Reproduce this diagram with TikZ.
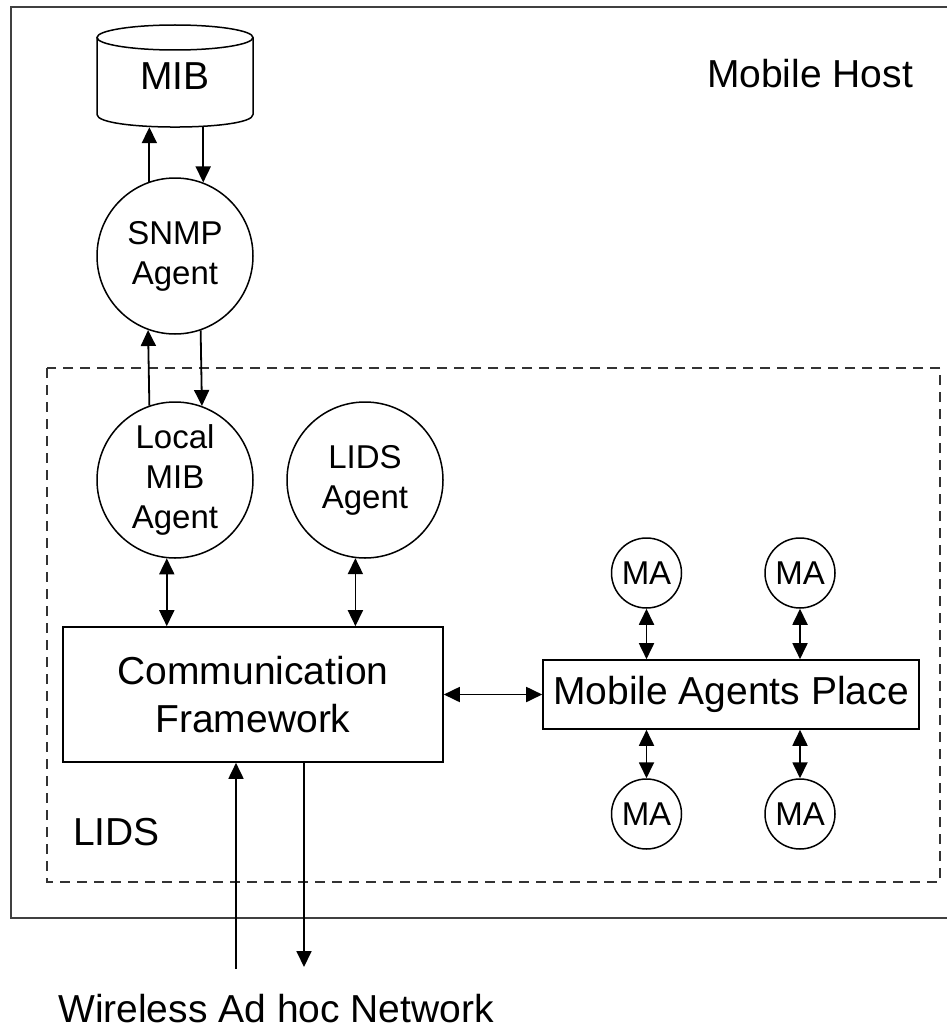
\documentclass[tikz,border=0pt]{standalone}
\usepackage{fontspec}
\setmainfont{Liberation Sans}
\usetikzlibrary{arrows.meta,calc}
\begin{document}
\begin{tikzpicture}[x=1pt,y=-1pt,
  big/.style={font=\fontsize{39}{48}\selectfont},
  small/.style={font=\fontsize{33}{40}\selectfont},
  agent/.style={circle,draw,line width=1.5pt,minimum size=156pt,inner sep=0pt,align=center,small},
  ma/.style={circle,draw,line width=1.5pt,minimum size=70pt,inner sep=0pt,small},
  box/.style={draw,line width=1.6pt,inner sep=0pt,align=center,big},
  arr/.style={line width=1.8pt,arrows={-Triangle[length=16pt,width=15pt]}},
  darr/.style={line width=1.8pt,arrows={Triangle[length=16pt,width=15pt]-Triangle[length=16pt,width=15pt]}},
]
\useasboundingbox (0,0) rectangle (947,1030);
\fill[white] (0,0) rectangle (947,1030);

% containers
\draw[line width=2.5pt,black!75] (11,7) rectangle (970,918);
\draw[line width=2pt,black!80,dash pattern=on 10pt off 7pt] (47,368) rectangle (940,882);

% MIB cylinder
\draw[line width=1.5pt] (97,37.5) -- (97,114.5) .. controls (97,131.2) and (253,131.2) .. (253,114.5) -- (253,37.5);
\draw[line width=1.5pt] (175,37.5) ellipse [x radius=78, y radius=12.5];
\node[big,inner sep=0pt,minimum width=156pt,minimum height=102pt] (mib) at (175,76) {MIB};

% nodes
\node[agent] (snmp) at (175,256) {SNMP\\Agent};
\node[agent] (lmib) at (175,480) {Local\\MIB\\Agent};
\node[agent] (lids) at (365,480) {LIDS\\Agent};
\node[box,minimum width=380pt,minimum height=135pt] (comm) at (253,694.5) {Communication\\Framework};
\node[box,minimum width=376pt,minimum height=69pt] (map) at (731,694.5) {Mobile Agents Place};
\node[ma] (ma1) at (646.5,573) {MA};
\node[ma] (ma2) at (800,573) {MA};
\node[ma] (ma3) at (646.5,814) {MA};
\node[ma] (ma4) at (800,814) {MA};

% labels
\node[big,inner sep=0pt,anchor=base] (host) at (810,88) {Mobile Host};
\node[big,inner sep=0pt,anchor=base west] (lidslabel) at (73,845) {LIDS};
\node[big,inner sep=0pt,anchor=base] (net) at (276,1022) {Wireless Ad hoc Network};

% connectors
\draw[arr] (snmp.109.5) -- (snmp.109.5 |- mib.south);
\draw[arr] (snmp.69.7 |- mib.south) -- (snmp.69.7);
\draw[arr] (lmib.109.5) -- (snmp.250.5);
\draw[arr] (snmp.289.5) -- (lmib.70.5);
\draw[darr] (lmib.264.9) -- (lmib.264.9 |- comm.north);
\draw[darr] (lids.263.4) -- (lids.263.4 |- comm.north);
\draw[darr] (comm.east) -- (map.west);
\draw[darr] (ma1) -- (ma1 |- map.north);
\draw[darr] (ma2) -- (ma2 |- map.north);
\draw[darr] (ma3) -- (ma3 |- map.south);
\draw[darr] (ma4) -- (ma4 |- map.south);
\coordinate (in1) at (236,969);
\coordinate (out1) at (304,967);
\draw[arr] (in1) -- (in1 |- comm.south);
\draw[arr] (out1 |- comm.south) -- (out1);
\end{tikzpicture}
\end{document}
